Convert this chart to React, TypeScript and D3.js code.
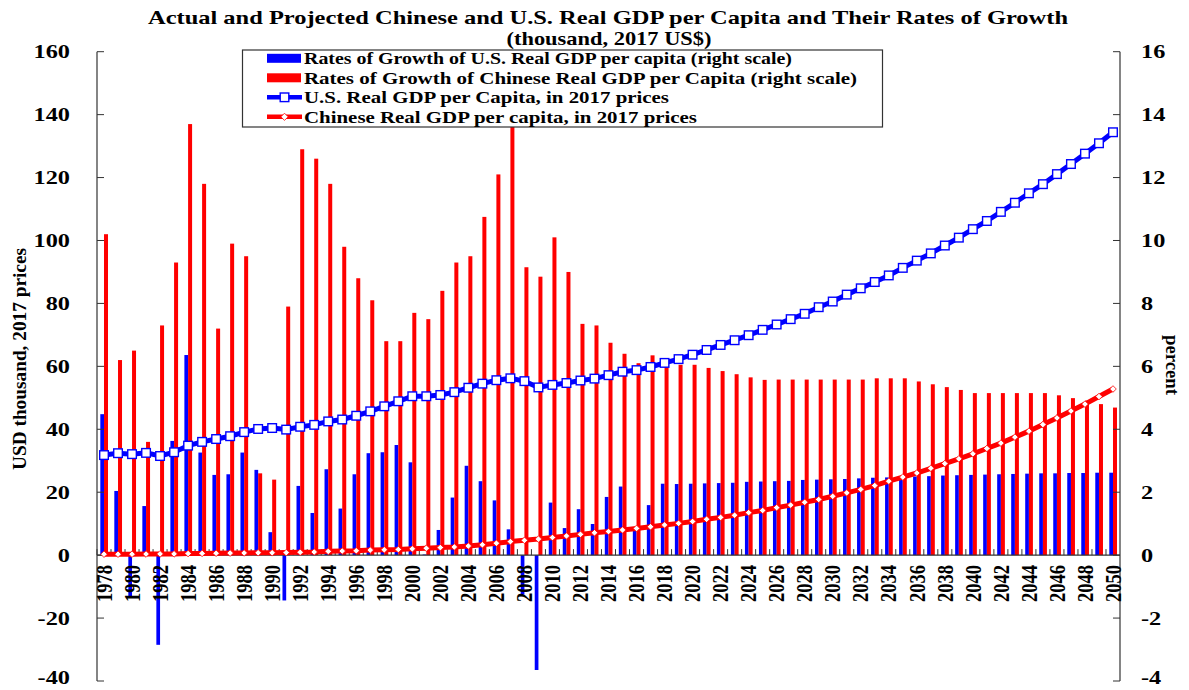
import React from "react";
import * as d3 from "d3";

const years: number[] = d3.range(1978, 2051);

const usGrowth: number[] = [
  4.48, 2.04, -1.3, 1.56, -2.85, 3.63, 6.36, 3.26, 2.55, 2.57, 3.26, 2.71, 0.73, -1.44,
  2.2, 1.34, 2.73, 1.48, 2.57, 3.24, 3.27, 3.5, 2.95, 0.02, 0.8, 1.83, 2.84, 2.35, 1.74,
  0.82, -1.25, -3.65, 1.67, 0.86, 1.46, 0.99, 1.85, 2.18, 0.8, 1.59, 2.27, 2.26, 2.27,
  2.28, 2.29, 2.3, 2.33, 2.34, 2.35, 2.36, 2.39, 2.4, 2.41, 2.42, 2.44, 2.46, 2.47, 2.48,
  2.5, 2.51, 2.53, 2.54, 2.55, 2.56, 2.57, 2.58, 2.59, 2.6, 2.6, 2.61, 2.61, 2.62, 2.62,
];

const cnGrowth: number[] = [
  10.2, 6.2, 6.5, 3.6, 7.3, 9.3, 13.7, 11.8, 7.2, 9.9, 9.5, 2.6, 2.4, 7.9, 12.9, 12.6,
  11.8, 9.8, 8.8, 8.1, 6.8, 6.8, 7.7, 7.5, 8.4, 9.3, 9.5, 10.75, 12.1, 13.65, 9.15, 8.85,
  10.1, 9.0, 7.35, 7.3, 6.75, 6.4, 6.1, 6.35, 6.0, 6.05, 6.05, 5.95, 5.85, 5.75, 5.65,
  5.57, 5.58, 5.58, 5.58, 5.58, 5.58, 5.58, 5.58, 5.62, 5.62, 5.62, 5.52, 5.43, 5.34,
  5.25, 5.15, 5.15, 5.15, 5.15, 5.15, 5.15, 5.08, 4.99, 4.91, 4.8, 4.69,
];

const usGdp: number[] = [
  31.8, 32.4, 32.1, 32.5, 31.5, 32.7, 34.8, 36.0, 36.9, 37.8, 39.1, 40.1, 40.4, 39.9,
  40.8, 41.4, 42.5, 43.1, 44.3, 45.7, 47.3, 48.9, 50.5, 50.5, 50.9, 51.8, 53.2, 54.5,
  55.6, 56.2, 55.3, 53.3, 54.1, 54.7, 55.5, 56.1, 57.2, 58.3, 58.8, 59.8, 61.1, 62.3,
  63.7, 65.2, 66.8, 68.3, 69.9, 71.6, 73.3, 75.0, 76.7, 78.8, 80.6, 82.8, 84.8, 86.8,
  88.9, 91.3, 93.6, 95.9, 98.4, 100.9, 103.6, 106.2, 109.1, 112.0, 115.0, 117.9, 121.1,
  124.3, 127.6, 130.9, 134.4,
];

const cnGdp: number[] = [
  0.3, 0.3, 0.3, 0.35, 0.4, 0.4, 0.5, 0.55, 0.6, 0.65, 0.7, 0.75, 0.75, 0.8, 0.9, 1.0,
  1.2, 1.3, 1.4, 1.6, 1.7, 1.8, 2.0, 2.2, 2.4, 2.6, 2.9, 3.3, 3.8, 4.3, 4.7, 5.1, 5.6,
  6.1, 6.6, 7.1, 7.5, 8.0, 8.5, 9.0, 9.6, 10.1, 10.7, 11.4, 12.0, 12.7, 13.5, 14.2, 15.1,
  15.9, 16.8, 17.7, 18.7, 19.8, 20.9, 22.1, 23.5, 24.8, 26.1, 27.6, 29.1, 30.6, 32.2,
  33.9, 35.6, 37.5, 39.4, 41.5, 43.6, 45.8, 48.0, 50.4, 52.8,
];

const leftTicks: number[] = [-40, -20, 0, 20, 40, 60, 80, 100, 120, 140, 160];
const rightTicks: number[] = [-4, -2, 0, 2, 4, 6, 8, 10, 12, 14, 16];

const titleLine1 = "Actual and Projected Chinese and U.S. Real GDP per Capita and Their Rates of Growth";
const titleLine2 = "(thousand, 2017 US$)";
const legendItems = [
  { label: "Rates of Growth of U.S. Real GDP per capita (right scale)", kind: "bar", color: "#0000ff", len: 488 },
  { label: "Rates of Growth of Chinese Real GDP per Capita (right scale)", kind: "bar", color: "#ff0000", len: 553 },
  { label: "U.S. Real GDP per Capita, in 2017 prices", kind: "square", color: "#0000ff", len: 365 },
  { label: "Chinese Real GDP per capita, in 2017 prices", kind: "diamond", color: "#ff0000", len: 393 },
];

const FONT = "'Liberation Serif', 'Times New Roman', serif";
const BLUE = "#0000ff";
const RED = "#ff0000";
const AXIS = "#333333";

export default function App() {
  const W = 1189;
  const H = 690;
  const left = 97;
  const right = 1120;
  const top = 51.7;
  const bottom = 681;

  const x = d3.scaleBand<number>().domain(years).range([left, right]).padding(0);
  const bw = x.bandwidth();
  const cx = (y: number) => (x(y) as number) + bw / 2;
  const yL = d3.scaleLinear().domain([-40, 160]).range([bottom, top]);
  const yR = d3.scaleLinear().domain([-4, 16]).range([bottom, top]);
  const y0 = yL(0);

  const valLine = d3
    .line<number>()
    .x((_, i) => cx(years[i]))
    .y((d) => yL(d));

  const diamond = (px: number, py: number, r: number) =>
    `M${px},${py - r}L${px + r},${py}L${px},${py + r}L${px - r},${py}Z`;

  const labelY = (py: number) => Math.min(py, 678);

  return (
    <svg width={W} height={H} style={{ position: "absolute", left: 0, top: 0, background: "#fff" }} fontFamily={FONT}>
      <rect x={0} y={0} width={W} height={H} fill="#fff" />
      {/* Title */}
      <text x={608} y={24} textAnchor="middle" fontSize={19} fontWeight="bold" textLength={920} lengthAdjust="spacingAndGlyphs">
        {titleLine1}
      </text>
      <text x={609} y={45} textAnchor="middle" fontSize={19} fontWeight="bold" textLength={205} lengthAdjust="spacingAndGlyphs">
        {titleLine2}
      </text>

      {/* Bars */}
      {years.map((yr, i) => {
        const c = cx(yr);
        const vU = usGrowth[i];
        const vC = cnGrowth[i];
        return (
          <g key={"b" + yr}>
            <rect x={c - 3.7} width={3.7} y={Math.min(yR(vU), yR(0))} height={Math.abs(yR(vU) - yR(0))} fill={BLUE} />
            <rect x={c} width={4} y={Math.min(yR(vC), yR(0))} height={Math.abs(yR(vC) - yR(0))} fill={RED} />
          </g>
        );
      })}

      {/* Axes */}
      <line x1={left} x2={left} y1={top} y2={bottom} stroke={AXIS} strokeWidth={1.2} />
      <line x1={right} x2={right} y1={top} y2={bottom} stroke={AXIS} strokeWidth={1.2} />
      {leftTicks.map((t) => (
        <g key={"lt" + t}>
          <line x1={left} x2={left + 7} y1={yL(t)} y2={yL(t)} stroke={AXIS} strokeWidth={1} />
          <text transform={`translate(70,${labelY(yL(t))}) scale(1.35,1)`} textAnchor="end" dy="0.36em" fontSize={18} fontWeight="bold">
            {t}
          </text>
        </g>
      ))}
      {rightTicks.map((t) => (
        <g key={"rt" + t}>
          <line x1={right - 7} x2={right} y1={yR(t)} y2={yR(t)} stroke={AXIS} strokeWidth={1} />
          <text transform={`translate(1141,${labelY(yR(t))}) scale(1.35,1)`} textAnchor="start" dy="0.36em" fontSize={18} fontWeight="bold">
            {t}
          </text>
        </g>
      ))}
      {/* x baseline + ticks */}
      <line x1={left} x2={right} y1={y0} y2={y0} stroke={AXIS} strokeWidth={1.2} />
      {years.map((yr) => (
        <line key={"xt" + yr} x1={x(yr) as number} x2={x(yr) as number} y1={y0} y2={y0 - 6} stroke={AXIS} strokeWidth={1} />
      ))}

      {/* Lines */}
      <path d={valLine(cnGdp) || ""} fill="none" stroke={RED} strokeWidth={5} />
      {years.map((yr, i) => (
        <path key={"cd" + yr} d={diamond(cx(yr), yL(cnGdp[i]), 3.3)} fill="#fff" stroke={RED} strokeWidth={0.8} />
      ))}
      <path d={valLine(usGdp) || ""} fill="none" stroke={BLUE} strokeWidth={5} />
      {years.map((yr, i) => (
        <rect key={"us" + yr} x={cx(yr) - 4.3} y={yL(usGdp[i]) - 4.3} width={8.6} height={8.6} fill="#fff" stroke={BLUE} strokeWidth={1.4} />
      ))}

      {/* x labels */}
      {years
        .filter((yr) => yr % 2 === 0)
        .map((yr) => (
          <text
            key={"xl" + yr}
            transform={`translate(${cx(yr) + 7.7},565) rotate(-90) scale(1,1.25)`}
            textAnchor="end"
            fontSize={18.5}
            fontWeight="bold"
          >
            {yr}
          </text>
        ))}

      {/* Axis titles */}
      <text transform={`translate(26,359) rotate(-90)`} textAnchor="middle" fontSize={18} fontWeight="bold" textLength={222} lengthAdjust="spacingAndGlyphs">
        USD thousand, 2017 prices
      </text>
      <text transform={`translate(1166,365) rotate(90)`} textAnchor="middle" fontSize={18} fontWeight="bold" textLength={60} lengthAdjust="spacingAndGlyphs">
        percent
      </text>

      {/* Legend */}
      <rect x={242.5} y={50} width={640} height={77} fill="#fff" stroke={AXIS} strokeWidth={1.2} />
      {legendItems.map((it, i) => {
        const ly = 58.3 + i * 19.5;
        return (
          <g key={"lg" + i}>
            {it.kind === "bar" ? (
              <rect x={267} y={ly - 4.5} width={34} height={9} fill={it.color} />
            ) : (
              <g>
                <line x1={267} x2={302} y1={ly} y2={ly} stroke={it.color} strokeWidth={4.5} />
                {it.kind === "square" ? (
                  <rect x={284.5 - 4.3} y={ly - 4.3} width={8.6} height={8.6} fill="#fff" stroke={it.color} strokeWidth={1.4} />
                ) : (
                  <path d={diamond(284.5, ly, 3.6)} fill="#fff" stroke={it.color} strokeWidth={0.8} />
                )}
              </g>
            )}
            <text x={304} y={ly} dy="0.36em" fontSize={16.5} fontWeight="bold" textLength={it.len} lengthAdjust="spacingAndGlyphs">
              {it.label}
            </text>
          </g>
        );
      })}
    </svg>
  );
}
